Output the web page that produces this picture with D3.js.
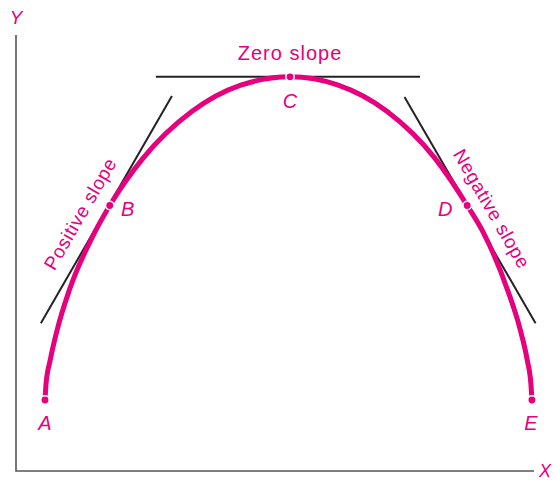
<!DOCTYPE html>
<html>
<head>
<meta charset="utf-8">
<script src="https://cdn.jsdelivr.net/npm/d3@7"></script>
<style>
  body { margin: 0; background: #fff; }
  text { font-family: "Liberation Sans", Arial, sans-serif; fill: #e6007e; }
</style>
</head>
<body>
<script>
// curve (x, y in 0-100 units)
const curveX = [5.6, 5.8, 6.6, 8.0, 10.3, 15.1, 18.1, 24.5, 34.0, 43.4, 52.9,
  62.2, 71.6, 80.9, 87.1, 90.3, 94.9, 97.3, 98.7, 99.4, 99.6];
const curveY = [16.3, 20.0, 25.4, 32.6, 41.5, 54.5, 60.9, 71.7, 82.5, 88.5, 90.4,
  88.5, 82.5, 71.7, 60.9, 54.5, 41.5, 32.6, 25.4, 20.0, 16.3];

// labelled points on the curve
const pointNames = ['A', 'B', 'C', 'D', 'E'];
const pointX = [5.6, 18.1, 52.9, 87.1, 99.6];
const pointY = [16.3, 60.9, 90.4, 60.9, 16.3];

// tangent lines: [x1, y1, x2, y2]
const tangents = [
  [4.8, 33.9, 30.1, 86.0],
  [27.0, 90.4, 78.0, 90.4],
  [75.0, 85.8, 100.3, 33.9]
];

const width = 555;
const height = 481;
const pink = '#e6007e';

const svg = d3.select('body')
  .append('svg')
  .attr('width', width)
  .attr('height', height);

const x = d3.scaleLinear().domain([0, 100]).range([16, 534]);
const y = d3.scaleLinear().domain([0, 100]).range([471, 35]);

// axes
svg.append('path')
  .attr('d', `M${x(0)},${y(100)}V${y(0)}H${x(100)}`)
  .attr('fill', 'none')
  .attr('stroke', '#555')
  .attr('stroke-width', 1.6);

svg.append('text')
  .attr('x', x(0))
  .attr('y', 24)
  .attr('text-anchor', 'middle')
  .attr('font-size', 19)
  .attr('font-style', 'italic')
  .text('Y');

svg.append('text')
  .attr('x', 545)
  .attr('y', 477)
  .attr('text-anchor', 'middle')
  .attr('font-size', 18)
  .attr('font-style', 'italic')
  .text('X');

// tangent lines
svg.selectAll('line.tangent')
  .data(tangents)
  .join('line')
  .attr('class', 'tangent')
  .attr('x1', d => x(d[0]))
  .attr('y1', d => y(d[1]))
  .attr('x2', d => x(d[2]))
  .attr('y2', d => y(d[3]))
  .attr('stroke', '#222')
  .attr('stroke-width', 2);

// the curve
const line = d3.line()
  .x(i => x(curveX[i]))
  .y(i => y(curveY[i]))
  .curve(d3.curveMonotoneX);

svg.append('path')
  .attr('d', line(d3.range(curveX.length)))
  .attr('fill', 'none')
  .attr('stroke', pink)
  .attr('stroke-width', 5);

// points
svg.selectAll('circle.pt')
  .data(pointNames)
  .join('circle')
  .attr('class', 'pt')
  .attr('cx', (d, i) => x(pointX[i]))
  .attr('cy', (d, i) => y(pointY[i]))
  .attr('r', 4.2)
  .attr('fill', pink)
  .attr('stroke', '#fff')
  .attr('stroke-width', 1.5);

// point labels
const labelDx = [0, 18, 0, -22, -1];
const labelDy = [30, 11, 31, 11, 30];
svg.selectAll('text.pt')
  .data(pointNames)
  .join('text')
  .attr('class', 'pt')
  .attr('x', (d, i) => x(pointX[i]) + labelDx[i])
  .attr('y', (d, i) => y(pointY[i]) + labelDy[i])
  .attr('text-anchor', 'middle')
  .attr('font-size', 20)
  .attr('font-style', 'italic')
  .text(d => d);

// slope labels
svg.append('text')
  .attr('x', x(52.9))
  .attr('y', 60)
  .attr('text-anchor', 'middle')
  .attr('font-size', 20)
  .attr('letter-spacing', 1)
  .text('Zero slope');

svg.append('text')
  .attr('transform', 'translate(86,217) rotate(-60)')
  .attr('text-anchor', 'middle')
  .attr('font-size', 19)
  .attr('letter-spacing', 0.6)
  .text('Positive slope');

svg.append('text')
  .attr('transform', 'translate(486,212) rotate(60)')
  .attr('text-anchor', 'middle')
  .attr('font-size', 19)
  .attr('letter-spacing', 0.6)
  .text('Negative slope');
</script>
</body>
</html>
